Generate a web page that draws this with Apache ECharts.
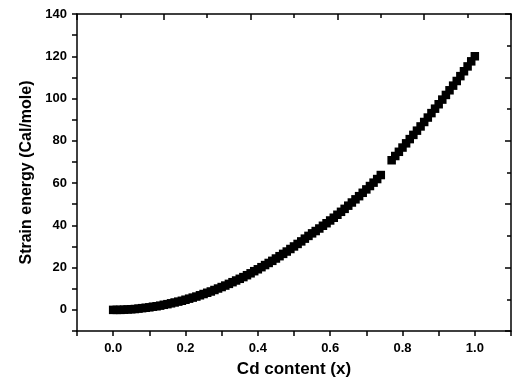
<!DOCTYPE html>
<html>
<head>
<meta charset="UTF-8">
<title>Strain energy vs Cd content</title>
<script src="https://cdn.jsdelivr.net/npm/echarts@6/dist/echarts.min.js"></script>
<style>
  html, body { margin: 0; padding: 0; background: #fff; }
  #chart { width: 514px; height: 383px; }
</style>
</head>
<body>
<div id="chart"></div>
<script>
// Cd content (x) and strain energy (Cal/mole)
var cdLow = [0.00, 0.01, 0.02, 0.03, 0.04, 0.05, 0.06, 0.07, 0.08, 0.09,
             0.10, 0.11, 0.12, 0.13, 0.14, 0.15, 0.16, 0.17, 0.18, 0.19,
             0.20, 0.21, 0.22, 0.23, 0.24, 0.25, 0.26, 0.27, 0.28, 0.29,
             0.30, 0.31, 0.32, 0.33, 0.34, 0.35, 0.36, 0.37, 0.38, 0.39,
             0.40, 0.41, 0.42, 0.43, 0.44, 0.45, 0.46, 0.47, 0.48, 0.49,
             0.50, 0.51, 0.52, 0.53, 0.54, 0.55, 0.56, 0.57, 0.58, 0.59,
             0.60, 0.61, 0.62, 0.63, 0.64, 0.65, 0.66, 0.67, 0.68, 0.69,
             0.70, 0.71, 0.72, 0.73, 0.74];
var energyLow = [0, 0, 0, 0.1, 0.2, 0.3, 0.4, 0.6, 0.8, 1.0,
                 1.2, 1.5, 1.7, 2.0, 2.4, 2.7, 3.1, 3.5, 3.9, 4.3,
                 4.8, 5.3, 5.8, 6.3, 6.9, 7.5, 8.1, 8.7, 9.4, 10.1,
                 10.8, 11.5, 12.3, 13.1, 13.9, 14.7, 15.5, 16.4, 17.3, 18.3,
                 19.2, 20.2, 21.2, 22.2, 23.2, 24.3, 25.4, 26.5, 27.6, 28.8,
                 30.0, 31.2, 32.4, 33.7, 35.0, 36.2, 37.3, 38.5, 39.8, 41.0,
                 42.3, 43.6, 45.0, 46.4, 47.8, 49.3, 50.8, 52.3, 53.8, 55.4,
                 57.0, 58.6, 60.2, 61.9, 63.8];
var cdHigh = [0.77, 0.78, 0.79, 0.80, 0.81, 0.82, 0.83, 0.84, 0.85, 0.86,
              0.87, 0.88, 0.89, 0.90, 0.91, 0.92, 0.93, 0.94, 0.95, 0.96,
              0.97, 0.98, 0.99, 1.00];
var energyHigh = [70.8, 72.8, 74.8, 76.8, 78.8, 80.8, 82.8, 84.8, 86.8, 88.9,
                  91.0, 93.1, 95.2, 97.3, 99.5, 101.7, 103.9, 106.1, 108.3, 110.6,
                  112.9, 115.2, 117.6, 120.0];

var points = [];
cdLow.forEach(function (x, i) { points.push([x, energyLow[i]]); });
cdHigh.forEach(function (x, i) { points.push([x, energyHigh[i]]); });

var FONT = 'Liberation Sans, Arial, sans-serif';
var axisLine = { show: true, onZero: false, lineStyle: { color: '#000', width: 1.5 } };

var chart = echarts.init(document.getElementById('chart'));
chart.setOption({
  backgroundColor: '#fff',
  animation: false,
  grid: { left: 77, right: 2, top: 14, bottom: 46 },
  xAxis: [
    {
      type: 'value', position: 'bottom',
      min: -0.1, max: 1.1, interval: 0.1,
      name: 'Cd content (x)', nameLocation: 'middle', nameGap: 30,
      nameTextStyle: { fontFamily: FONT, fontWeight: 'bold', fontSize: 17, color: '#000' },
      axisLine: axisLine,
      axisTick: { show: true, inside: false, length: 5, lineStyle: { color: '#000', width: 1.5 } },
      axisLabel: {
        fontFamily: FONT, fontWeight: 'bold', fontSize: 13, color: '#000', margin: 11,
        showMinLabel: true, showMaxLabel: true,
        formatter: function (v) {
          var k = Math.round(v * 10);
          return (k >= 0 && k <= 10 && k % 2 === 0) ? (k / 10).toFixed(1) : '';
        }
      },
      splitLine: { show: false }
    },
    {
      type: 'value', position: 'top',
      min: 0, max: 10, interval: 2,
      axisLine: axisLine,
      axisTick: { show: true, inside: true, length: 6, lineStyle: { color: '#000', width: 1.5 } },
      minorTick: { show: true, splitNumber: 2, length: 4, lineStyle: { color: '#000', width: 1.5 } },
      axisLabel: { show: false },
      splitLine: { show: false }
    }
  ],
  yAxis: [
    {
      type: 'value', position: 'left',
      min: -10, max: 140, interval: 10,
      name: 'Strain energy (Cal/mole)', nameLocation: 'middle', nameGap: 42,
      nameTextStyle: { fontFamily: FONT, fontWeight: 'bold', fontSize: 16, color: '#000' },
      axisLine: axisLine,
      axisTick: { show: true, inside: false, length: 5, lineStyle: { color: '#000', width: 1.5 } },
      axisLabel: {
        fontFamily: FONT, fontWeight: 'bold', fontSize: 13, color: '#000', margin: 10,
        formatter: function (v) {
          var k = Math.round(v);
          return (k >= 0 && k % 20 === 0) ? String(k) : '';
        }
      },
      splitLine: { show: false }
    },
    {
      type: 'value', position: 'right',
      min: 0, max: 10, interval: 2,
      axisLine: axisLine,
      axisTick: { show: true, inside: true, length: 6, lineStyle: { color: '#000', width: 1.5 } },
      minorTick: { show: true, splitNumber: 2, length: 4, lineStyle: { color: '#000', width: 1.5 } },
      axisLabel: { show: false },
      splitLine: { show: false }
    }
  ],
  series: [
    {
      type: 'scatter',
      xAxisIndex: 0, yAxisIndex: 0,
      symbol: 'rect', symbolSize: 8.5,
      itemStyle: { color: '#000', opacity: 1 },
      data: points
    }
  ]
});
</script>
</body>
</html>
